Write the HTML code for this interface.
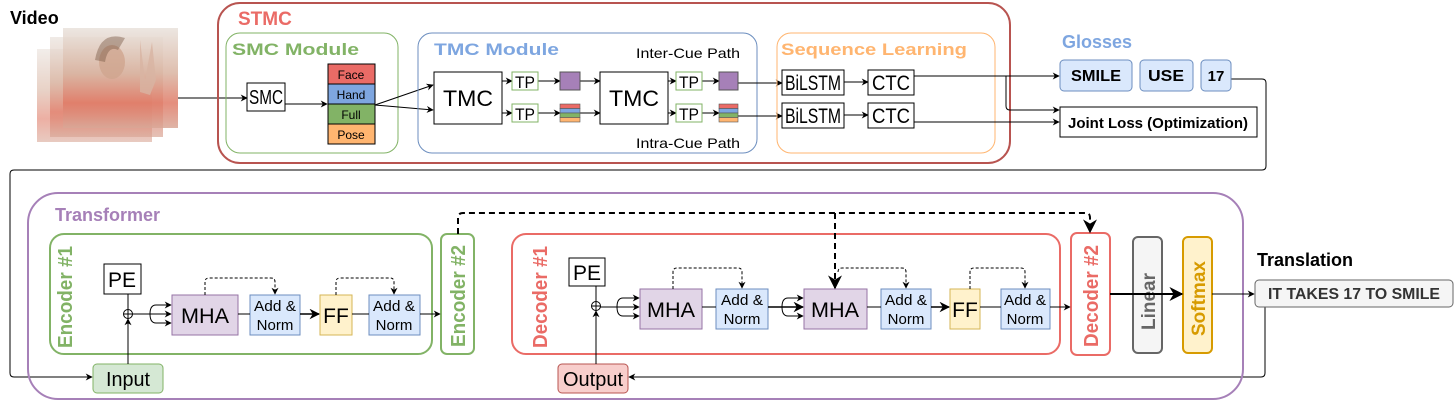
<!DOCTYPE html>
<html><head><meta charset="utf-8"><style>
body{margin:0;background:#fff}
svg{display:block}
text{font-family:"Liberation Sans",sans-serif}
.b{font-weight:bold}
</style></head><body>
<svg width="1456" height="401" viewBox="0 0 1456 401" xmlns="http://www.w3.org/2000/svg">
<defs>
<marker id="a" viewBox="0 0 10 10" refX="9" refY="5" markerWidth="7" markerHeight="7" orient="auto"><path d="M0,0 L10,5 L0,10 L3,5z" fill="#000"/></marker>
<linearGradient id="sk" x1="0" y1="0" x2="0" y2="1"><stop offset="0" stop-color="#e9e2dc"/><stop offset="0.45" stop-color="#d9b3a0"/><stop offset="0.75" stop-color="#e07a66"/><stop offset="1" stop-color="#d9a797"/></linearGradient>
</defs>
<!-- Video -->
<text x="10" y="24" class="b" font-size="18">Video</text>
<rect x="37" y="49" width="115" height="93" fill="url(#sk)" opacity="0.6"/>
<rect x="50" y="37" width="113" height="100" fill="url(#sk)" opacity="0.7"/>
<rect x="63" y="28" width="115" height="100" fill="url(#sk)" opacity="0.85"/>
<ellipse cx="112" cy="62" rx="13" ry="17" fill="#d0a58f" opacity="0.8"/>
<path d="M95,60 Q100,30 125,38 L118,50 Q108,45 105,62z" fill="#7a5a48" opacity="0.45"/>
<path d="M140,40 L145,80 L152,42 L156,80 L150,95 L140,92z" fill="#d8b4a2" opacity="0.8"/>
<line x1="178" y1="98" x2="247" y2="98" stroke="#000" marker-end="url(#a)"/>

<!-- STMC -->
<rect x="218" y="3" width="792" height="160" rx="22" fill="none" stroke="#b85450" stroke-width="2"/>
<text x="238" y="25" class="b" font-size="19" fill="#ea6b66">STMC</text>
<rect x="226" y="33" width="172" height="120" rx="14" fill="none" stroke="#82b366"/>
<text x="232" y="55" class="b" font-size="17" fill="#82b366" textLength="127" lengthAdjust="spacingAndGlyphs">SMC Module</text>
<rect x="247" y="83" width="38" height="28" fill="#fff" stroke="#000"/>
<text x="266" y="104" font-size="20" text-anchor="middle" textLength="34" lengthAdjust="spacingAndGlyphs">SMC</text>
<line x1="285" y1="104" x2="327" y2="104" stroke="#000" marker-end="url(#a)"/>
<g stroke="#000">
<rect x="328" y="64" width="47" height="20" fill="#ea6b66"/>
<rect x="328" y="84" width="47" height="20" fill="#7ea6e0"/>
<rect x="328" y="104" width="47" height="20" fill="#82b366"/>
<rect x="328" y="124" width="47" height="20" fill="#ffb570"/>
</g>
<g font-size="12" text-anchor="middle">
<text x="351" y="79">Face</text><text x="351" y="99">Hand</text><text x="351" y="119">Full</text><text x="351" y="139">Pose</text>
</g>
<line x1="375" y1="105" x2="433" y2="85" stroke="#000" marker-end="url(#a)"/>
<line x1="375" y1="105" x2="433" y2="110" stroke="#000" marker-end="url(#a)"/>

<rect x="418" y="33" width="339" height="120" rx="14" fill="none" stroke="#6c8ebf"/>
<text x="434" y="55" class="b" font-size="17" fill="#7ea6e0" textLength="125" lengthAdjust="spacingAndGlyphs">TMC Module</text>
<text x="740" y="58" font-size="14" text-anchor="end" textLength="104" lengthAdjust="spacingAndGlyphs">Inter-Cue Path</text>
<text x="740" y="148" font-size="14" text-anchor="end" textLength="104" lengthAdjust="spacingAndGlyphs">Intra-Cue Path</text>
<rect x="434" y="72" width="68" height="52" fill="#fff" stroke="#000"/>
<text x="468" y="106" font-size="22" text-anchor="middle" textLength="50" lengthAdjust="spacingAndGlyphs">TMC</text>
<rect x="600" y="72" width="68" height="52" fill="#fff" stroke="#000"/>
<text x="634" y="106" font-size="22" text-anchor="middle" textLength="50" lengthAdjust="spacingAndGlyphs">TMC</text>
<g stroke="#000">
<line x1="502" y1="81" x2="512" y2="81" marker-end="url(#a)"/>
<line x1="502" y1="113" x2="512" y2="113" marker-end="url(#a)"/>
<line x1="538" y1="81" x2="560" y2="81" marker-end="url(#a)"/>
<line x1="538" y1="113" x2="560" y2="113" marker-end="url(#a)"/>
<line x1="580" y1="81" x2="600" y2="81" marker-end="url(#a)"/>
<line x1="580" y1="113" x2="600" y2="113" marker-end="url(#a)"/>
<line x1="668" y1="81" x2="676" y2="81" marker-end="url(#a)"/>
<line x1="668" y1="113" x2="676" y2="113" marker-end="url(#a)"/>
<line x1="702" y1="81" x2="719" y2="81" marker-end="url(#a)"/>
<line x1="702" y1="113" x2="719" y2="113" marker-end="url(#a)"/>
<line x1="738" y1="83" x2="782" y2="83" marker-end="url(#a)"/>
<line x1="738" y1="116" x2="782" y2="116" marker-end="url(#a)"/>
</g>
<g font-size="17" text-anchor="middle">
<rect x="512" y="72" width="26" height="18" fill="#fff" stroke="#82b366"/><text x="525" y="88" textLength="20" lengthAdjust="spacingAndGlyphs">TP</text>
<rect x="512" y="104" width="26" height="18" fill="#fff" stroke="#82b366"/><text x="525" y="120" textLength="20" lengthAdjust="spacingAndGlyphs">TP</text>
<rect x="676" y="72" width="26" height="18" fill="#fff" stroke="#82b366"/><text x="689" y="88" textLength="20" lengthAdjust="spacingAndGlyphs">TP</text>
<rect x="676" y="104" width="26" height="18" fill="#fff" stroke="#82b366"/><text x="689" y="120" textLength="20" lengthAdjust="spacingAndGlyphs">TP</text>
</g>
<rect x="560" y="72" width="20" height="18" fill="#a680b8" stroke="#555"/>
<rect x="719" y="72" width="19" height="18" fill="#a680b8" stroke="#555"/>
<g stroke="#555" stroke-width="0.6">
<rect x="560" y="104" width="20" height="4.5" fill="#ea6b66"/><rect x="560" y="108.5" width="20" height="4.5" fill="#7ea6e0"/><rect x="560" y="113" width="20" height="4.5" fill="#82b366"/><rect x="560" y="117.5" width="20" height="4.5" fill="#ffb570"/>
<rect x="719" y="104" width="19" height="4.5" fill="#ea6b66"/><rect x="719" y="108.5" width="19" height="4.5" fill="#7ea6e0"/><rect x="719" y="113" width="19" height="4.5" fill="#82b366"/><rect x="719" y="117.5" width="19" height="4.5" fill="#ffb570"/>
</g>

<rect x="777" y="33" width="218" height="120" rx="14" fill="none" stroke="#ffb570"/>
<text x="781" y="55" class="b" font-size="17" fill="#ffb570" textLength="186" lengthAdjust="spacingAndGlyphs">Sequence Learning</text>
<g font-size="21" text-anchor="middle">
<rect x="782" y="70" width="62" height="25" fill="#fff" stroke="#000"/><text x="813" y="90" textLength="56" lengthAdjust="spacingAndGlyphs">BiLSTM</text>
<rect x="782" y="103" width="62" height="25" fill="#fff" stroke="#000"/><text x="813" y="123" textLength="56" lengthAdjust="spacingAndGlyphs">BiLSTM</text>
<rect x="868" y="70" width="46" height="25" fill="#fff" stroke="#000"/><text x="891" y="90" textLength="38" lengthAdjust="spacingAndGlyphs">CTC</text>
<rect x="868" y="103" width="46" height="25" fill="#fff" stroke="#000"/><text x="891" y="123" textLength="38" lengthAdjust="spacingAndGlyphs">CTC</text>
</g>
<g stroke="#000" fill="none">
<line x1="844" y1="82" x2="868" y2="82" marker-end="url(#a)"/>
<line x1="844" y1="115" x2="868" y2="115" marker-end="url(#a)"/>
<line x1="914" y1="76" x2="1059" y2="76" marker-end="url(#a)"/>
<path d="M1006,76 L1006,106 Q1006,110 1010,110 L1059,110" marker-end="url(#a)"/>
<line x1="914" y1="122" x2="1059" y2="122" marker-end="url(#a)"/>
<path d="M1231,79 L1262,79 Q1266,79 1266,83 L1266,166 Q1266,170 1262,170 L14,170 Q10,170 10,174 L10,373 Q10,377 14,377 L92,377" marker-end="url(#a)"/>
<path d="M1265,307 L1265,373 Q1265,377 1261,377 L629,377" marker-end="url(#a)"/>
</g>
<text x="1062" y="48" class="b" font-size="18" fill="#7ea6e0">Glosses</text>
<g class="b" text-anchor="middle">
<rect x="1060" y="60" width="72" height="31" rx="4" fill="#dae8fc" stroke="#6c8ebf"/><text x="1096" y="81" font-size="16" textLength="50" lengthAdjust="spacingAndGlyphs">SMILE</text>
<rect x="1140" y="60" width="53" height="31" rx="4" fill="#dae8fc" stroke="#6c8ebf"/><text x="1166" y="81" font-size="16" textLength="36" lengthAdjust="spacingAndGlyphs">USE</text>
<rect x="1201" y="60" width="30" height="31" rx="4" fill="#dae8fc" stroke="#6c8ebf"/><text x="1216" y="81" font-size="15">17</text>
<rect x="1060" y="107" width="197" height="30" fill="#fff" stroke="#000"/><text x="1158" y="128" font-size="15" textLength="180" lengthAdjust="spacingAndGlyphs">Joint Loss (Optimization)</text>
</g>

<!-- Transformer -->
<rect x="28" y="193" width="1215" height="206" rx="30" fill="none" stroke="#a680b8" stroke-width="2"/>
<text x="55" y="221" class="b" font-size="18" fill="#a680b8">Transformer</text>
<rect x="50" y="234" width="382" height="120" rx="14" fill="none" stroke="#82b366" stroke-width="2"/>
<text transform="translate(72,348) rotate(-90)" class="b" font-size="20" fill="#82b366" textLength="102" lengthAdjust="spacingAndGlyphs">Encoder #1</text>
<rect x="441" y="234" width="33" height="120" rx="6" fill="none" stroke="#82b366" stroke-width="2"/>
<text transform="translate(465,347) rotate(-90)" class="b" font-size="20" fill="#82b366" textLength="102" lengthAdjust="spacingAndGlyphs">Encoder #2</text>

<rect x="512" y="234" width="548" height="120" rx="14" fill="none" stroke="#ea6b66" stroke-width="2"/>
<text transform="translate(547,348) rotate(-90)" class="b" font-size="20" fill="#ea6b66" textLength="102" lengthAdjust="spacingAndGlyphs">Decoder #1</text>
<rect x="1071" y="233" width="39" height="122" rx="6" fill="none" stroke="#ea6b66" stroke-width="2"/>
<text transform="translate(1098,347) rotate(-90)" class="b" font-size="20" fill="#ea6b66" textLength="102" lengthAdjust="spacingAndGlyphs">Decoder #2</text>
<rect x="1133" y="237" width="29" height="116" rx="5" fill="#f5f5f5" stroke="#666" stroke-width="2"/>
<text transform="translate(1155,330) rotate(-90)" class="b" font-size="19" fill="#666">Linear</text>
<rect x="1183" y="237" width="29" height="116" rx="5" fill="#fff2cc" stroke="#d79b00" stroke-width="2"/>
<text transform="translate(1205,336) rotate(-90)" class="b" font-size="19" fill="#d79b00">Softmax</text>
<text x="1257" y="266" class="b" font-size="18">Translation</text>
<rect x="1255" y="280" width="198" height="27" rx="4" fill="#f5f5f5" stroke="#666"/>
<text x="1354" y="299" class="b" font-size="16" text-anchor="middle" fill="#333" textLength="172" lengthAdjust="spacingAndGlyphs">IT TAKES 17 TO SMILE</text>
<g stroke="#000" fill="none">
<line x1="1110" y1="294" x2="1182" y2="294" stroke-width="2" marker-end="url(#a)"/>
<line x1="1212" y1="294" x2="1254" y2="294" marker-end="url(#a)"/>
</g>

<!-- internals -->
<g font-size="21" text-anchor="middle">
<rect x="104" y="264" width="37" height="30" fill="#fff" stroke="#000"/><text x="122" y="287">PE</text>
<rect x="172" y="295" width="66" height="40" fill="#e1d5e7" stroke="#9673a6"/><text x="205" y="323" textLength="48" lengthAdjust="spacingAndGlyphs">MHA</text>
<rect x="320" y="295" width="32" height="40" fill="#fff2cc" stroke="#d6b656"/><text x="336" y="323">FF</text>
<rect x="569" y="258" width="36" height="28" fill="#fff" stroke="#000"/><text x="587" y="280">PE</text>
<rect x="640" y="289" width="62" height="40" fill="#e1d5e7" stroke="#9673a6"/><text x="671" y="317" textLength="48" lengthAdjust="spacingAndGlyphs">MHA</text>
<rect x="804" y="289" width="63" height="40" fill="#e1d5e7" stroke="#9673a6"/><text x="835" y="317" textLength="48" lengthAdjust="spacingAndGlyphs">MHA</text>
<rect x="950" y="289" width="30" height="40" fill="#fff2cc" stroke="#d6b656"/><text x="965" y="317">FF</text>
</g>
<g font-size="15" text-anchor="middle">
<rect x="250" y="295" width="50" height="40" fill="#dae8fc" stroke="#6c8ebf"/><text x="275" y="311" textLength="42" lengthAdjust="spacingAndGlyphs">Add &amp;</text><text x="275" y="330">Norm</text>
<rect x="369" y="295" width="51" height="40" fill="#dae8fc" stroke="#6c8ebf"/><text x="394" y="311" textLength="42" lengthAdjust="spacingAndGlyphs">Add &amp;</text><text x="394" y="330">Norm</text>
<rect x="716" y="289" width="52" height="40" fill="#dae8fc" stroke="#6c8ebf"/><text x="742" y="305" textLength="42" lengthAdjust="spacingAndGlyphs">Add &amp;</text><text x="742" y="324">Norm</text>
<rect x="881" y="289" width="50" height="40" fill="#dae8fc" stroke="#6c8ebf"/><text x="906" y="305" textLength="42" lengthAdjust="spacingAndGlyphs">Add &amp;</text><text x="906" y="324">Norm</text>
<rect x="1001" y="289" width="49" height="40" fill="#dae8fc" stroke="#6c8ebf"/><text x="1025" y="305" textLength="42" lengthAdjust="spacingAndGlyphs">Add &amp;</text><text x="1025" y="324">Norm</text>
</g>
<g stroke="#000" fill="none">
<rect x="93" y="364" width="70" height="29" rx="4" fill="#d5e8d4" stroke="#82b366"/>
<rect x="558" y="364" width="70" height="29" rx="4" fill="#f8cecc" stroke="#b85450"/>
<line x1="128" y1="364" x2="128" y2="319" marker-end="url(#a)"/>
<line x1="128" y1="294" x2="128" y2="309"/>
<circle cx="128" cy="314" r="4.5" fill="#fff"/><line x1="123.5" y1="314" x2="132.5" y2="314"/><line x1="128" y1="309.5" x2="128" y2="318.5"/>
<path d="M132,314 L171,314" marker-end="url(#a)"/>
<path d="M150,314 Q150,305 156,305 L171,305" marker-end="url(#a)"/>
<path d="M150,314 Q150,323 156,323 L171,323" marker-end="url(#a)"/>
<line x1="238" y1="314" x2="250" y2="314"/>
<line x1="300" y1="314" x2="319" y2="314" stroke-width="1.5" marker-end="url(#a)"/>
<line x1="352" y1="314" x2="369" y2="314"/>
<line x1="420" y1="314" x2="440" y2="314" marker-end="url(#a)"/>
<path d="M205,295 L205,282 Q205,278 209,278 L271,278 Q275,278 275,282 L275,294" stroke-dasharray="3,2" marker-end="url(#a)"/>
<path d="M336,295 L336,282 Q336,278 340,278 L390,278 Q394,278 394,282 L394,294" stroke-dasharray="3,2" marker-end="url(#a)"/>

<line x1="596" y1="364" x2="596" y2="311" marker-end="url(#a)"/>
<line x1="596" y1="286" x2="596" y2="301"/>
<circle cx="596" cy="306" r="4.5" fill="#fff"/><line x1="591.5" y1="306" x2="600.5" y2="306"/><line x1="596" y1="301.5" x2="596" y2="310.5"/>
<path d="M600,307 L639,307" marker-end="url(#a)"/>
<path d="M617,307 Q617,298 623,298 L639,298" marker-end="url(#a)"/>
<path d="M617,307 Q617,316 623,316 L639,316" marker-end="url(#a)"/>
<line x1="702" y1="307" x2="716" y2="307"/>
<line x1="768" y1="307" x2="803" y2="307" stroke-width="1.5" marker-end="url(#a)"/>
<path d="M782,307 Q782,298 788,298 L803,298" marker-end="url(#a)"/>
<path d="M782,307 Q782,316 788,316 L803,316" marker-end="url(#a)"/>
<line x1="867" y1="307" x2="881" y2="307"/>
<line x1="931" y1="307" x2="949" y2="307" stroke-width="1.5" marker-end="url(#a)"/>
<line x1="980" y1="307" x2="1001" y2="307"/>
<line x1="1050" y1="307" x2="1070" y2="307" marker-end="url(#a)"/>
<path d="M673,289 L673,272 Q673,268 677,268 L738,268 Q742,268 742,272 L742,288" stroke-dasharray="3,2" marker-end="url(#a)"/>
<path d="M838,272 Q838,268 842,268 L902,268 Q906,268 906,272 L906,288" stroke-dasharray="3,2" marker-end="url(#a)"/>
<path d="M970,289 L970,272 Q970,268 974,268 L1021,268 Q1025,268 1025,272 L1025,288" stroke-dasharray="3,2" marker-end="url(#a)"/>
<path d="M458,234 L458,218 Q458,213 463,213 L1086,213 Q1090,213 1090,218 L1090,232" stroke-width="2" stroke-dasharray="6,4" marker-end="url(#a)"/>
<path d="M835,213 L835,288" stroke-width="2" stroke-dasharray="6,4" marker-end="url(#a)"/>
</g>
<g font-size="20" text-anchor="middle">
<text x="128" y="386" textLength="44" lengthAdjust="spacingAndGlyphs">Input</text>
<text x="593" y="386" textLength="60" lengthAdjust="spacingAndGlyphs">Output</text>
</g>
</svg>
</body></html>
